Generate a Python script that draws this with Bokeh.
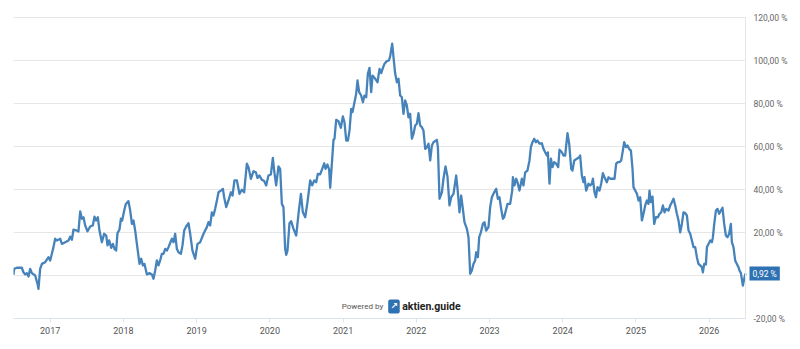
from bokeh.plotting import figure
from bokeh.models import Range1d, FixedTicker, NumeralTickFormatter, CustomJSTickFormatter, Label
from bokeh.embed import file_html
from bokeh.resources import INLINE

# Performance since mid-2016, weekly-ish samples: time as decimal year, value in percent
t_year = [
    2016.499, 2016.508, 2016.545, 2016.613, 2016.635, 2016.659, 2016.682, 2016.704, 2016.727, 2016.750,
    2016.795, 2016.827, 2016.840, 2016.863, 2016.887, 2016.932, 2016.977, 2017.000, 2017.023, 2017.045,
    2017.068, 2017.092, 2017.137, 2017.160, 2017.205, 2017.250, 2017.273, 2017.296, 2017.318, 2017.365,
    2017.386, 2017.410, 2017.433, 2017.455, 2017.478, 2017.509, 2017.546, 2017.583, 2017.605, 2017.628,
    2017.651, 2017.673, 2017.706, 2017.737, 2017.765, 2017.783, 2017.806, 2017.833, 2017.856, 2017.878,
    2017.901, 2017.919, 2017.946, 2017.966, 2017.983, 2018.011, 2018.034, 2018.069, 2018.093, 2018.116,
    2018.138, 2018.161, 2018.184, 2018.220, 2018.243, 2018.266, 2018.288, 2018.321, 2018.356, 2018.389,
    2018.411, 2018.434, 2018.457, 2018.479, 2018.502, 2018.525, 2018.547, 2018.571, 2018.594, 2018.616,
    2018.662, 2018.684, 2018.707, 2018.730, 2018.752, 2018.785, 2018.807, 2018.830, 2018.857, 2018.889,
    2018.912, 2018.943, 2018.980, 2019.012, 2019.049, 2019.094, 2019.140, 2019.162, 2019.185, 2019.208,
    2019.230, 2019.253, 2019.277, 2019.299, 2019.331, 2019.359, 2019.376, 2019.404, 2019.435, 2019.468,
    2019.490, 2019.517, 2019.550, 2019.585, 2019.618, 2019.649, 2019.686, 2019.708, 2019.741, 2019.777,
    2019.809, 2019.831, 2019.858, 2019.891, 2019.923, 2019.950, 2019.981, 2020.014, 2020.041, 2020.059,
    2020.086, 2020.118, 2020.141, 2020.164, 2020.186, 2020.209, 2020.223, 2020.241, 2020.268, 2020.291,
    2020.323, 2020.360, 2020.391, 2020.424, 2020.451, 2020.483, 2020.514, 2020.551, 2020.578, 2020.606,
    2020.633, 2020.656, 2020.687, 2020.715, 2020.742, 2020.760, 2020.787, 2020.810, 2020.824, 2020.847,
    2020.869, 2020.883, 2020.906, 2020.937, 2020.970, 2020.997, 2021.019, 2021.043, 2021.066, 2021.088,
    2021.111, 2021.129, 2021.152, 2021.179, 2021.197, 2021.220, 2021.247, 2021.271, 2021.292, 2021.316,
    2021.338, 2021.361, 2021.384, 2021.402, 2021.439, 2021.470, 2021.498, 2021.521, 2021.544, 2021.566,
    2021.598, 2021.626, 2021.643, 2021.671, 2021.689, 2021.712, 2021.735, 2021.757, 2021.780, 2021.803,
    2021.825, 2021.848, 2021.871, 2021.893, 2021.916, 2021.940, 2021.962, 2021.985, 2022.008, 2022.030,
    2022.053, 2022.076, 2022.098, 2022.122, 2022.145, 2022.167, 2022.190, 2022.213, 2022.235, 2022.281,
    2022.295, 2022.317, 2022.350, 2022.371, 2022.399, 2022.426, 2022.453, 2022.477, 2022.508, 2022.545,
    2022.568, 2022.590, 2022.613, 2022.636, 2022.658, 2022.691, 2022.713, 2022.736, 2022.759, 2022.781,
    2022.804, 2022.818, 2022.841, 2022.859, 2022.882, 2022.909, 2022.931, 2022.954, 2022.986, 2023.009,
    2023.032, 2023.064, 2023.091, 2023.114, 2023.136, 2023.159, 2023.183, 2023.200, 2023.223, 2023.246,
    2023.282, 2023.310, 2023.319, 2023.341, 2023.364, 2023.382, 2023.409, 2023.442, 2023.464, 2023.487,
    2023.518, 2023.546, 2023.565, 2023.587, 2023.610, 2023.633, 2023.655, 2023.682, 2023.715, 2023.737,
    2023.760, 2023.783, 2023.797, 2023.819, 2023.839, 2023.860, 2023.883, 2023.911, 2023.938, 2023.956,
    2023.988, 2024.010, 2024.033, 2024.065, 2024.088, 2024.116, 2024.133, 2024.157, 2024.193, 2024.225,
    2024.238, 2024.261, 2024.283, 2024.297, 2024.320, 2024.352, 2024.375, 2024.398, 2024.412, 2024.434,
    2024.453, 2024.475, 2024.502, 2024.525, 2024.548, 2024.570, 2024.603, 2024.625, 2024.648, 2024.685,
    2024.707, 2024.730, 2024.753, 2024.775, 2024.798, 2024.821, 2024.839, 2024.862, 2024.884, 2024.907,
    2024.931, 2024.953, 2024.966, 2024.990, 2025.013, 2025.035, 2025.058, 2025.081, 2025.103, 2025.126,
    2025.149, 2025.171, 2025.185, 2025.204, 2025.226, 2025.249, 2025.272, 2025.300, 2025.321, 2025.345,
    2025.368, 2025.390, 2025.413, 2025.444, 2025.468, 2025.490, 2025.513, 2025.536, 2025.559, 2025.581,
    2025.604, 2025.627, 2025.649, 2025.673, 2025.696, 2025.718, 2025.741, 2025.764, 2025.786, 2025.809,
    2025.832, 2025.854, 2025.877, 2025.900, 2025.914, 2025.932, 2025.955, 2025.969, 2025.991, 2026.014,
    2026.037, 2026.051, 2026.069, 2026.092, 2026.114, 2026.137, 2026.160, 2026.182, 2026.205, 2026.228,
    2026.250, 2026.273, 2026.296, 2026.310, 2026.332, 2026.355, 2026.378, 2026.400, 2026.414, 2026.433,
    2026.460, 2026.478, 2026.496,
]
pct = [
    0.3, 3.1, 3.6, 3.6, 1.5, 0.5, 1.1, -0.5, 3.1, 1.1,
    0.0, -3.9, -6.2, 3.1, 5.4, 6.2, 8.5, 7.0, 10.1, 13.2,
    17.1, 16.3, 17.1, 14.7, 15.5, 16.3, 18.1, 16.6, 21.3, 20.9,
    20.5, 29.8, 26.4, 27.1, 23.3, 20.5, 22.8, 23.3, 27.4, 25.6,
    27.1, 20.9, 15.5, 19.4, 18.6, 14.0, 16.3, 12.9, 14.7, 12.4,
    11.6, 19.7, 21.3, 26.4, 25.6, 30.2, 33.3, 34.6, 30.2, 24.0,
    25.6, 20.9, 14.7, 5.4, 7.8, 4.7, 5.4, 0.5, 1.1, 0.5,
    -1.5, 2.3, 7.0, 4.7, 7.0, 10.1, 10.1, 12.4, 11.6, 13.2,
    17.1, 15.5, 19.4, 12.4, 10.8, 10.1, 14.0, 20.9, 22.8, 24.3,
    19.4, 11.6, 7.8, 14.7, 15.5, 19.4, 22.5, 24.8, 23.3, 29.4,
    27.9, 31.0, 34.9, 38.7, 39.5, 40.3, 36.4, 31.8, 34.9, 38.7,
    37.2, 44.2, 44.2, 38.0, 39.9, 38.7, 52.0, 50.4, 45.0, 48.5,
    48.0, 45.4, 46.5, 44.5, 43.9, 41.9, 46.5, 47.0, 54.7, 48.8,
    41.9, 50.7, 49.6, 33.3, 31.8, 12.4, 9.6, 11.6, 24.3, 25.3,
    21.7, 18.6, 28.7, 38.0, 29.4, 27.1, 34.1, 44.2, 41.9, 44.2,
    43.4, 47.3, 47.0, 49.6, 52.2, 49.6, 51.6, 49.2, 40.8, 52.0,
    63.1, 63.6, 72.4, 71.8, 68.7, 74.0, 71.3, 62.8, 62.8, 67.4,
    77.5, 76.0, 79.9, 84.5, 90.7, 85.3, 83.7, 80.6, 83.7, 82.9,
    93.8, 96.6, 85.3, 93.0, 91.5, 89.9, 96.1, 94.1, 96.6, 98.5,
    99.7, 100.0, 101.9, 107.8, 101.5, 93.8, 89.9, 91.5, 83.7, 82.9,
    75.2, 81.4, 79.1, 73.6, 75.2, 63.6, 65.9, 69.8, 70.6, 75.5,
    69.8, 69.0, 67.4, 58.9, 59.7, 61.3, 53.5, 60.5, 62.0, 63.1,
    59.7, 35.7, 38.7, 45.0, 50.7, 46.0, 32.6, 36.4, 38.0, 46.5,
    38.7, 29.4, 37.2, 31.0, 24.8, 21.7, 17.8, 0.8, 2.3, 5.4,
    7.0, 10.8, 8.5, 17.8, 20.1, 24.0, 24.8, 20.9, 22.5, 31.8,
    36.4, 38.7, 40.3, 35.7, 36.4, 31.0, 26.4, 27.1, 30.2, 33.3,
    33.3, 39.5, 45.7, 41.9, 45.0, 43.4, 39.5, 45.0, 41.9, 48.0,
    48.8, 53.5, 59.7, 62.0, 63.6, 62.0, 62.8, 61.3, 61.5, 58.9,
    57.3, 55.8, 57.3, 42.7, 54.3, 50.4, 52.7, 52.0, 50.4, 58.5,
    57.3, 55.8, 55.8, 66.2, 61.3, 49.6, 48.8, 53.5, 54.3, 55.0,
    55.8, 46.5, 43.4, 45.7, 39.5, 42.7, 41.9, 42.7, 45.0, 38.7,
    36.4, 41.1, 39.5, 42.7, 47.6, 45.7, 43.4, 45.7, 45.0, 45.0,
    45.0, 52.0, 52.7, 52.7, 53.5, 58.1, 62.0, 59.7, 60.5, 58.9,
    58.1, 49.6, 41.1, 39.5, 38.0, 34.9, 36.4, 25.6, 28.7, 32.6,
    34.9, 33.3, 39.5, 34.1, 36.7, 24.0, 27.1, 27.1, 28.7, 29.4,
    32.6, 29.4, 31.0, 30.2, 32.6, 34.1, 35.7, 32.6, 28.7, 25.6,
    20.1, 24.0, 29.4, 29.0, 27.9, 20.9, 19.4, 16.3, 13.2, 13.2,
    8.5, 5.4, 4.7, 3.9, 1.5, 5.4, 5.1, 13.2, 14.7, 16.3,
    15.5, 17.8, 24.0, 30.2, 31.0, 28.7, 30.2, 31.5, 24.0, 18.6,
    17.8, 19.4, 24.0, 15.5, 13.2, 7.0, 5.4, 3.9, 2.3, 1.1,
    -4.7, -1.5, 0.92,
]

year_ticks = [2017, 2018, 2019, 2020, 2021, 2022, 2023, 2024, 2025, 2026]
pct_ticks = [-20, 0, 20, 40, 60, 80, 100, 120]

LINE = "#4683bb"
BADGE = "#2f72b3"
GRID = "#e6e6e6"
AXIS = "#dde3ec"
LABEL = "#666666"
FONT = "Roboto"

# Layout in pixels: the frame is made larger than the plotted area so that the
# axes (pinned to the data edges) and the last-value badge draw inside it.
W, H = 800, 349
PX_L, PX_DATA_R, PX_FRAME_R = 13, 745, 792        # horizontal
PX_TOP, PX_DATA_T, PX_DATA_B, PX_BOT = 6, 17, 318, 346  # vertical

t0, t1 = t_year[0], t_year[-1]
x_end = t0 + (t1 - t0) * (PX_FRAME_R - PX_L) / (PX_DATA_R - PX_L)
v0, v1 = pct_ticks[0], pct_ticks[-1]
per_px = (v1 - v0) / (PX_DATA_B - PX_DATA_T)
y_start = v0 - (PX_BOT - PX_DATA_B) * per_px
y_end = v1 + (PX_DATA_T - PX_TOP) * per_px

p = figure(
    width=W, height=H,
    output_backend="svg", toolbar_location=None,
    x_range=Range1d(t0, x_end),
    y_range=Range1d(y_start, y_end),
    y_axis_location="right",
    min_border_left=PX_L, min_border_right=W - PX_FRAME_R,
    min_border_top=PX_TOP, min_border_bottom=H - PX_BOT,
)
p.outline_line_color = None
p.background_fill_color = "white"
p.border_fill_color = "white"

# horizontal grid lines, ending at the value axis
p.segment(x0=[t0] * len(pct_ticks), x1=[t1] * len(pct_ticks), y0=pct_ticks, y1=pct_ticks,
          line_color=GRID, line_width=1)
p.xgrid.grid_line_color = None
p.ygrid.grid_line_color = None

p.line(t_year, pct, line_color=LINE, line_width=2.3, line_join="round")

# time axis pinned at the lowest value tick
xa = p.xaxis[0]
xa.fixed_location = v0
xa.bounds = (t0, t1)
xa.ticker = FixedTicker(ticks=year_ticks)
xa.formatter = NumeralTickFormatter(format="0")
xa.axis_line_color = AXIS
xa.major_tick_line_color = AXIS
xa.major_tick_out = 4
xa.major_tick_in = 0
xa.minor_tick_line_color = None
xa.major_label_standoff = 4
xa.major_label_text_font = FONT
xa.major_label_text_font_size = "9px"
xa.major_label_text_color = "#555555"

# value axis pinned at the last date, German number format
ya = p.yaxis[0]
ya.fixed_location = t1
ya.bounds = (v0, v1)
ya.ticker = FixedTicker(ticks=pct_ticks)
ya.formatter = CustomJSTickFormatter(code="return tick.toFixed(2).replace('.', ',') + ' %';")
ya.axis_line_color = GRID
ya.major_tick_line_color = None
ya.major_tick_out = 0
ya.major_tick_in = 0
ya.minor_tick_line_color = None
ya.major_label_standoff = 8
ya.major_label_text_font = FONT
ya.major_label_text_font_size = "8.5px"
ya.major_label_text_color = LABEL

# last value badge beside the axis line
last_v = pct[-1]
badge_text = f"{last_v:.2f}".replace(".", ",") + " %"
p.add_layout(Label(
    x=t1, y=last_v, x_offset=4, text=badge_text,
    text_color="white", text_font=FONT, text_font_size="8.5px",
    text_baseline="middle", text_align="left",
    background_fill_color=BADGE, padding=dict(x=3, y=2), level="overlay",
))

# credit line
x_mid = 2021.548
y_credit = -14.4
p.add_layout(Label(
    x=x_mid, y=y_credit, text="Powered by", text_align="right", text_baseline="middle",
    text_font=FONT, text_font_size="8px", text_color="#555555",
))
p.add_layout(Label(
    x=x_mid, y=y_credit, x_offset=5, text="\u2197", text_align="left", text_baseline="middle",
    text_font="DejaVu Sans", text_font_size="9px", text_font_style="bold", text_color="white",
    background_fill_color=BADGE, padding=2, border_radius=2,
))
p.add_layout(Label(
    x=x_mid, y=y_credit, x_offset=19, text="aktien.guide", text_align="left", text_baseline="middle",
    text_font=FONT, text_font_size="10.5px", text_font_style="bold", text_color="#222222",
))

open("out.html", "w").write(file_html(p, INLINE))
